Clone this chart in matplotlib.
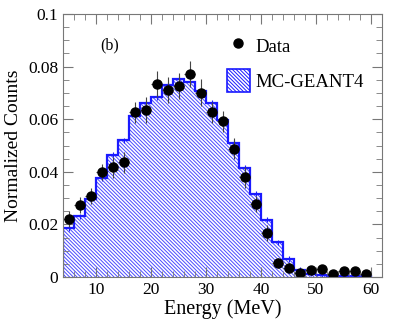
import numpy as np
import matplotlib.pyplot as plt
from matplotlib.lines import Line2D
from matplotlib.patches import Patch
from matplotlib.ticker import MultipleLocator

plt.rcParams['font.family'] = ['Liberation Serif', 'DejaVu Serif']
plt.rcParams['hatch.linewidth'] = 0.7

# bin edges (MeV)
edges = np.arange(4, 61, 2)
centers = (edges[:-1] + edges[1:]) / 2

# measured data
data = [0.0220, 0.0275, 0.0307, 0.0398, 0.0417, 0.0436, 0.0627, 0.0636,
        0.0734, 0.0710, 0.0725, 0.0772, 0.0701, 0.0627, 0.0593, 0.0487,
        0.0380, 0.0279, 0.0167, 0.0053, 0.0034, 0.0014, 0.0025, 0.0032,
        0.0011, 0.0021, 0.0021, 0.0011]
data_err = [0.003, 0.003, 0.003, 0.003, 0.004, 0.004, 0.004, 0.005,
            0.005, 0.005, 0.005, 0.005, 0.005, 0.004, 0.004, 0.004,
            0.004, 0.003, 0.003, 0.002, 0.002, 0.001, 0.001, 0.001,
            0.001, 0.001, 0.001, 0.001]

# simulation
mc = [0.0186, 0.0231, 0.0297, 0.0376, 0.0465, 0.0520, 0.0613, 0.0661,
      0.0684, 0.0731, 0.0754, 0.0740, 0.0706, 0.0662, 0.0598, 0.0510,
      0.0414, 0.0317, 0.0218, 0.0132, 0.0068, 0.0028, 0.0012, 0.0009,
      0.0004, 0.0003, 0.0003, 0.0002]
mc_err = [0.001] * len(mc)

fig = plt.figure(figsize=(3.99, 3.32), dpi=100)
ax = fig.add_axes([63 / 399, 55 / 332, 319 / 399, 263 / 332])

hatch = '\\' * 9
ax.stairs(mc, edges, fill=True, facecolor='none', edgecolor='#4a4aff',
          hatch=hatch, linewidth=0)
ax.stairs(mc, edges, color='#1a1aff', linewidth=1.6)
ax.errorbar(centers, mc, yerr=mc_err, xerr=1, fmt='none', ecolor='#1a1aff',
            elinewidth=0.8, capsize=0)

ax.errorbar(centers, data, yerr=data_err, xerr=1, fmt='o', color='black',
            markersize=6.5, ecolor='#444444', elinewidth=0.8, capsize=0)

ax.set_xlim(4, 62)
ax.set_ylim(0, 0.1)
ax.xaxis.set_major_locator(MultipleLocator(10))
ax.xaxis.set_minor_locator(MultipleLocator(2))
ax.yaxis.set_minor_locator(MultipleLocator(0.005))
ax.set_yticks([0, 0.02, 0.04, 0.06, 0.08, 0.1])
ax.set_yticklabels(['0', '0.02', '0.04', '0.06', '0.08', '0.1'])
ax.tick_params(which='both', direction='in', top=True, right=True,
               color='#777777', labelsize=12.5)
ax.tick_params(which='major', length=7)
ax.tick_params(which='minor', length=4)
for s in ax.spines.values():
    s.set_color('#777777')

ax.set_xlabel('Energy (MeV)', fontsize=14.5, labelpad=1)
ax.set_ylabel('Normalized Counts', fontsize=14, labelpad=4)
ax.text(0.147, 0.882, '(b)', transform=ax.transAxes, fontsize=11.5,
        ha='center', va='center')

handles = [Line2D([], [], marker='o', color='black', linestyle='none',
                  markersize=6.5),
           Patch(facecolor='none', edgecolor='#1a1aff', hatch=hatch,
                 linewidth=1.2)]
ax.legend(handles, ['Data', 'MC-GEANT4'], loc='upper left',
          bbox_to_anchor=(0.514, 0.925), frameon=False, fontsize=13.5,
          borderpad=0, borderaxespad=0,
          handlelength=1.23, handleheight=1.55, labelspacing=0.62,
          handletextpad=0.27)

fig.savefig('out.png', dpi=100)
